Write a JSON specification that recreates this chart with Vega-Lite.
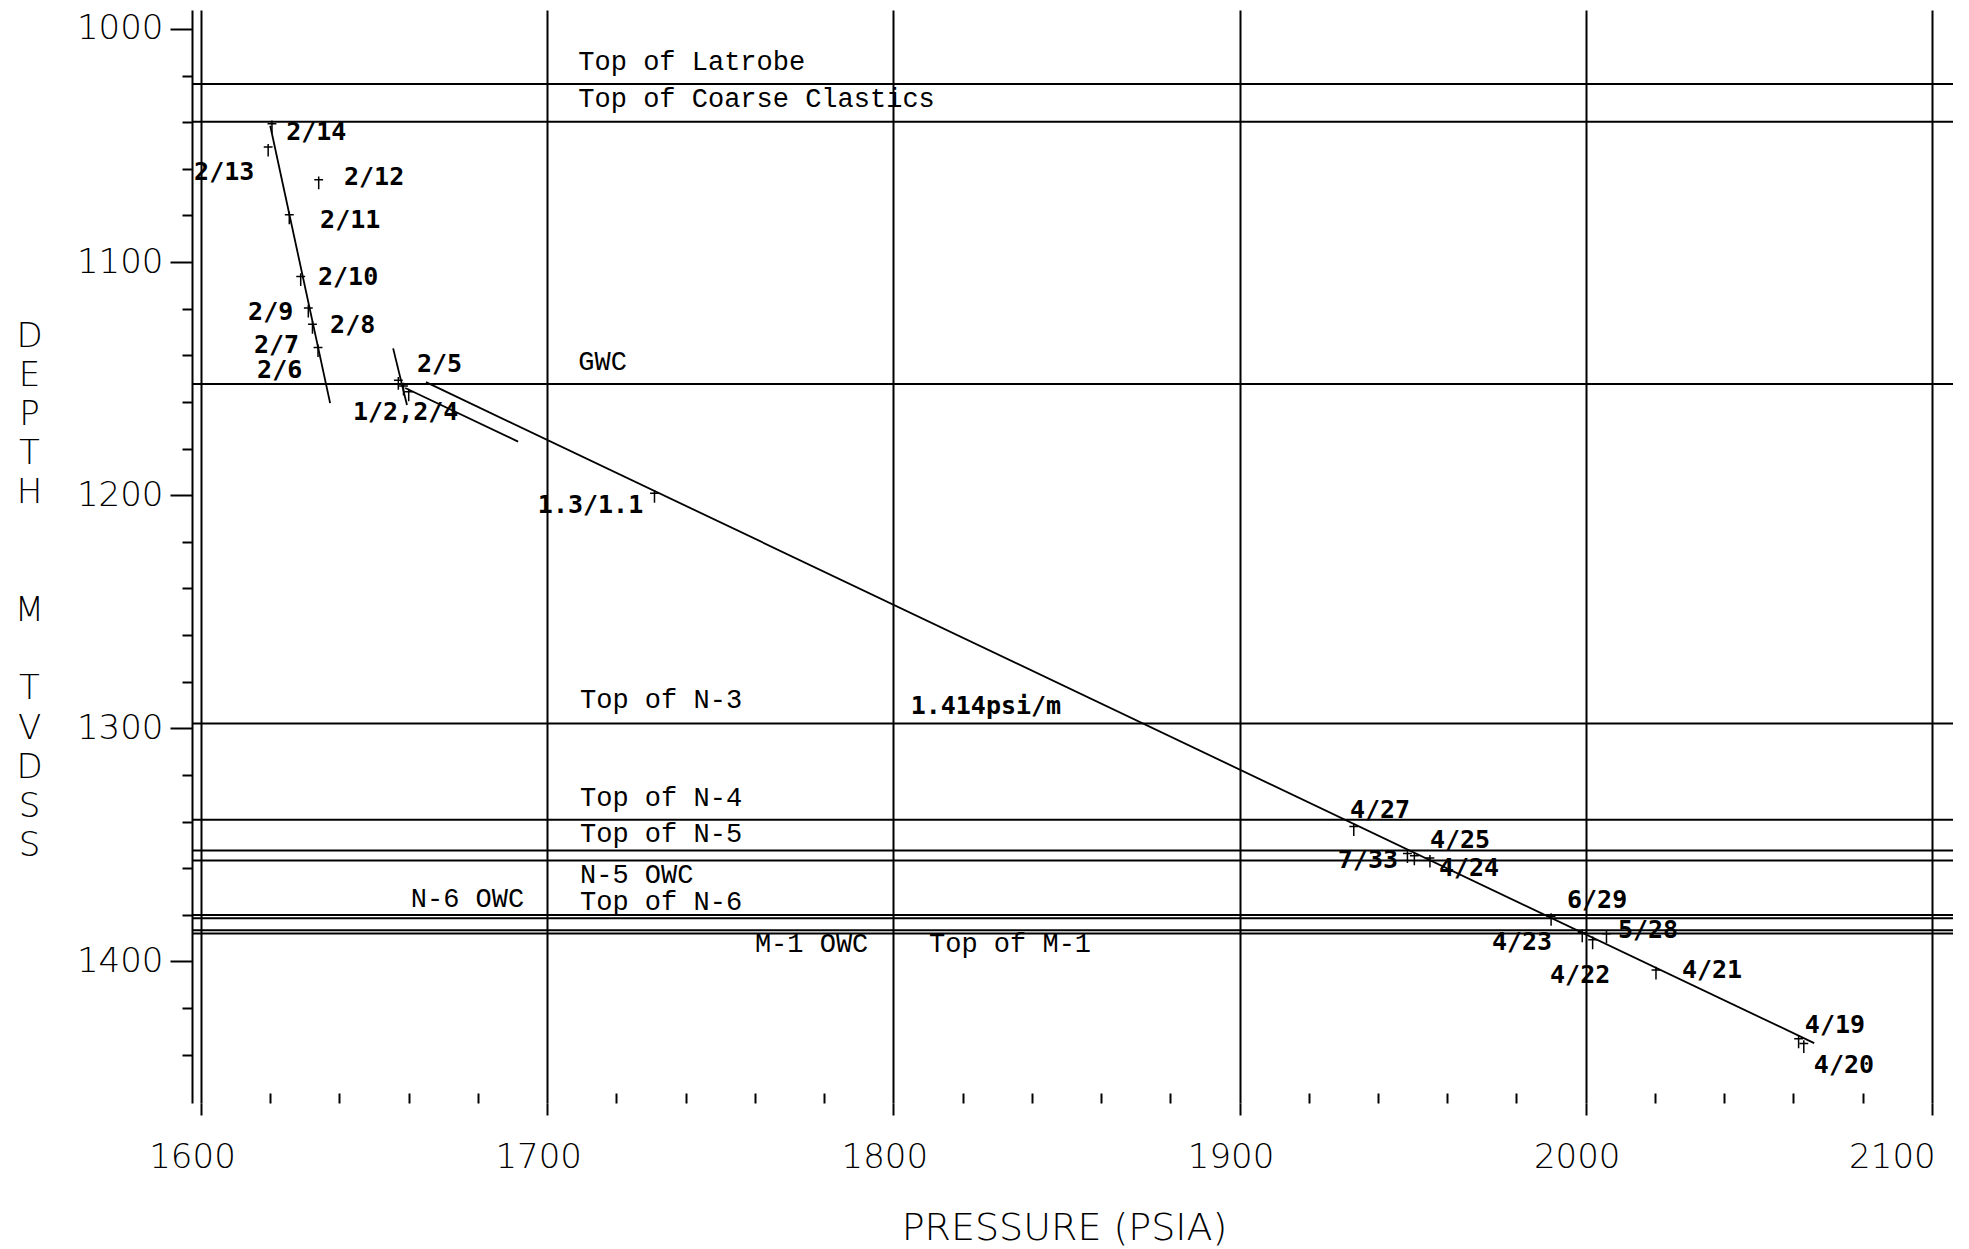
{
  "$schema": "https://vega.github.io/schema/vega-lite/v6.json",
  "width": 1761,
  "height": 1093,
  "autosize": {"type": "none"},
  "padding": {"left": 192, "top": 10, "right": 16, "bottom": 146},
  "background": "white",
  "config": {
    "view": {"stroke": null},
    "axis": {"labelColor": "black", "titleColor": "black", "domainColor": "black", "tickColor": "black", "gridColor": "black"}
  },
  "datasets": {
    "lines": [
      {"seg": "A", "psi": 1620, "depth": 1041.5},
      {"seg": "A", "psi": 1637.3, "depth": 1160.5},
      {"seg": "B", "psi": 1655.5, "depth": 1137},
      {"seg": "B", "psi": 1659.5, "depth": 1161.3},
      {"seg": "C", "psi": 1665, "depth": 1151.5},
      {"seg": "C", "psi": 2066, "depth": 1435},
      {"seg": "D", "psi": 1659, "depth": 1154},
      {"seg": "D", "psi": 1691.6, "depth": 1177}
    ],
    "tops": [
      {"name": "Top of Latrobe", "depth": 1023.6},
      {"name": "Top of Coarse Clastics", "depth": 1039.8},
      {"name": "GWC", "depth": 1152.3},
      {"name": "Top of N-3", "depth": 1297.9},
      {"name": "Top of N-4", "depth": 1339.2},
      {"name": "Top of N-5", "depth": 1352.4},
      {"name": "N-5 OWC", "depth": 1356.7},
      {"name": "N-6 OWC", "depth": 1380.1},
      {"name": "Top of N-6", "depth": 1381.5},
      {"name": "M-1 OWC", "depth": 1386.6},
      {"name": "Top of M-1", "depth": 1388.0}
    ],
    "toplabels": [
      {"text": "Top of Latrobe", "psi": 1709, "depth": 1017.6},
      {"text": "Top of Coarse Clastics", "psi": 1709, "depth": 1033.5},
      {"text": "GWC", "psi": 1709, "depth": 1146.3},
      {"text": "Top of N-3", "psi": 1709.5, "depth": 1291.4},
      {"text": "Top of N-4", "psi": 1709.5, "depth": 1333.3},
      {"text": "Top of N-5", "psi": 1709.5, "depth": 1348.6},
      {"text": "N-5 OWC", "psi": 1709.5, "depth": 1366.2},
      {"text": "Top of N-6", "psi": 1709.5, "depth": 1377.7},
      {"text": "N-6 OWC", "psi": 1660.6, "depth": 1376.7},
      {"text": "M-1 OWC", "psi": 1760, "depth": 1395.8},
      {"text": "Top of M-1", "psi": 1810.3, "depth": 1395.8}
    ],
    "labels": [
      {"text": "2/14", "psi": 1624.6, "depth": 1044.2},
      {"text": "2/13", "psi": 1598, "depth": 1061.3},
      {"text": "2/12", "psi": 1641.3, "depth": 1063.5},
      {"text": "2/11", "psi": 1634.4, "depth": 1082},
      {"text": "2/10", "psi": 1633.8, "depth": 1106.4},
      {"text": "2/9", "psi": 1613.6, "depth": 1121.4},
      {"text": "2/8", "psi": 1637.3, "depth": 1127},
      {"text": "2/7", "psi": 1615.3, "depth": 1135.6},
      {"text": "2/6", "psi": 1616.2, "depth": 1146.3},
      {"text": "2/5", "psi": 1662.4, "depth": 1143.7},
      {"text": "1/2,2/4", "psi": 1643.9, "depth": 1164.3},
      {"text": "1.3/1.1", "psi": 1697.3, "depth": 1204.2},
      {"text": "1.414psi/m", "psi": 1805, "depth": 1290.4},
      {"text": "4/27", "psi": 1931.9, "depth": 1335},
      {"text": "4/25", "psi": 1955, "depth": 1347.9},
      {"text": "7/33", "psi": 1928.4, "depth": 1356.5},
      {"text": "4/24", "psi": 1957.6, "depth": 1360},
      {"text": "6/29", "psi": 1994.6, "depth": 1373.7},
      {"text": "5/28", "psi": 2009.3, "depth": 1386.5},
      {"text": "4/23", "psi": 1972.9, "depth": 1391.7},
      {"text": "4/22", "psi": 1989.7, "depth": 1405.8},
      {"text": "4/21", "psi": 2027.8, "depth": 1403.7},
      {"text": "4/19", "psi": 2063.3, "depth": 1427.3},
      {"text": "4/20", "psi": 2065.9, "depth": 1444.4}
    ],
    "points": [
      {"psi": 1620.5, "depth": 1042},
      {"psi": 1619.4, "depth": 1052},
      {"psi": 1634, "depth": 1066},
      {"psi": 1625.5, "depth": 1081},
      {"psi": 1628.8, "depth": 1107.5},
      {"psi": 1631, "depth": 1121},
      {"psi": 1632.2, "depth": 1128},
      {"psi": 1633.8, "depth": 1138},
      {"psi": 1657, "depth": 1152},
      {"psi": 1658.5, "depth": 1154.5},
      {"psi": 1660, "depth": 1157},
      {"psi": 1731, "depth": 1200.5},
      {"psi": 1933, "depth": 1343.5},
      {"psi": 1948.5, "depth": 1355},
      {"psi": 1950.5, "depth": 1356},
      {"psi": 1955, "depth": 1357},
      {"psi": 1990, "depth": 1382},
      {"psi": 1999, "depth": 1389},
      {"psi": 2002, "depth": 1392},
      {"psi": 2006, "depth": 1389.5},
      {"psi": 2020.3, "depth": 1405},
      {"psi": 2061.5, "depth": 1434.5},
      {"psi": 2063, "depth": 1436.5}
    ]
  },
  "layer": [
    {
      "data": {"name": "lines"},
      "mark": {"type": "line", "color": "black", "strokeWidth": 1.8},
      "encoding": {
        "x": {
          "field": "psi", "type": "quantitative",
          "scale": {"domain": [1597.4, 2106.1], "nice": false, "zero": false},
          "axis": {
            "values": [1600,1610,1620,1630,1640,1650,1660,1670,1680,1690,1700,1710,1720,1730,1740,1750,1760,1770,1780,1790,1800,1810,1820,1830,1840,1850,1860,1870,1880,1890,1900,1910,1920,1930,1940,1950,1960,1970,1980,1990,2000,2010,2020,2030,2040,2050,2060,2070,2080,2090,2100],
            "format": "d",
            "labelExpr": "datum.value % 100 === 0 ? datum.label : ''",
            "domain": false,
            "grid": true,
            "gridOpacity": {"condition": {"test": "datum.value % 100 === 0", "value": 1}, "value": 0},
            "gridWidth": 2,
            "tickSize": {"condition": {"test": "datum.value % 100 === 0", "value": 12}, "value": -10},
            "tickWidth": 2,
            "labelFont": "DejaVu Sans",
            "labelFontWeight": 200,
            "labelFontSize": 34,
            "labelBaseline": "top",
            "labelPadding": 25,
            "labelOffset": {"condition": {"test": "datum.value === 2100", "value": -40}, "value": -9},
            "labelFlush": false,
            "labelOverlap": false,
            "title": "PRESSURE (PSIA)",
            "titleFont": "DejaVu Sans",
            "titleFontWeight": 200,
            "titleFontSize": 38,
            "titleX": 872,
            "titleY": 125,
            "titleAlign": "center",
            "titleBaseline": "middle"
          }
        },
        "y": {
          "field": "depth", "type": "quantitative",
          "scale": {"domain": [991.85, 1460.7], "reverse": true, "nice": false, "zero": false},
          "axis": {
            "values": [1000,1010,1020,1030,1040,1050,1060,1070,1080,1090,1100,1110,1120,1130,1140,1150,1160,1170,1180,1190,1200,1210,1220,1230,1240,1250,1260,1270,1280,1290,1300,1310,1320,1330,1340,1350,1360,1370,1380,1390,1400,1410,1420,1430,1440,1450],
            "format": "d",
            "labelExpr": "datum.value % 50 === 0 ? datum.label : ''",
            "grid": false,
            "domainWidth": 2,
            "tickSize": {"condition": {"test": "datum.value % 50 === 0", "value": 22}, "value": 10},
            "tickWidth": 2,
            "labelFont": "DejaVu Sans",
            "labelFontWeight": 200,
            "labelFontSize": 34,
            "labelPadding": 7,
            "labelBaseline": "middle",
            "labelOverlap": false,
            "labelFlush": false,
            "title": ["D","E","P","T","H","\u200b","\u200b","M","\u200b","T","V","D","S","S"],
            "titleAngle": 0,
            "titleFont": "DejaVu Sans",
            "titleFontWeight": 200,
            "titleFontSize": 34,
            "titleLineHeight": 39.2,
            "titleX": -163,
            "titleY": 309,
            "titleAlign": "center",
            "titleBaseline": "top"
          }
        },
        "detail": {"field": "seg"}
      }
    },
    {
      "data": {"name": "tops"},
      "mark": {"type": "rule", "color": "black", "strokeWidth": 2},
      "encoding": {
        "y": {"field": "depth", "type": "quantitative", "scale": {"domain": [991.85, 1460.7], "reverse": true, "nice": false, "zero": false}}
      }
    },
    {
      "data": {"name": "toplabels"},
      "mark": {"type": "text", "align": "left", "baseline": "alphabetic", "font": "Liberation Mono", "fontSize": 27, "color": "black"},
      "encoding": {
        "x": {"field": "psi", "type": "quantitative", "scale": {"domain": [1597.4, 2106.1], "nice": false, "zero": false}},
        "y": {"field": "depth", "type": "quantitative", "scale": {"domain": [991.85, 1460.7], "reverse": true, "nice": false, "zero": false}},
        "text": {"field": "text"}
      }
    },
    {
      "data": {"name": "labels"},
      "mark": {"type": "text", "align": "left", "baseline": "middle", "font": "DejaVu Sans Mono", "fontWeight": "bold", "fontSize": 25, "color": "black"},
      "encoding": {
        "x": {"field": "psi", "type": "quantitative", "scale": {"domain": [1597.4, 2106.1], "nice": false, "zero": false}},
        "y": {"field": "depth", "type": "quantitative", "scale": {"domain": [991.85, 1460.7], "reverse": true, "nice": false, "zero": false}},
        "text": {"field": "text"}
      }
    },
    {
      "data": {"name": "points"},
      "mark": {"type": "point", "shape": "M0,-1L0,1M-0.7,-0.5L0.7,-0.5", "size": 160, "filled": false, "color": "black", "strokeWidth": 1.5, "opacity": 1},
      "encoding": {
        "x": {"field": "psi", "type": "quantitative", "scale": {"domain": [1597.4, 2106.1], "nice": false, "zero": false}},
        "y": {"field": "depth", "type": "quantitative", "scale": {"domain": [991.85, 1460.7], "reverse": true, "nice": false, "zero": false}}
      }
    }
  ]
}
